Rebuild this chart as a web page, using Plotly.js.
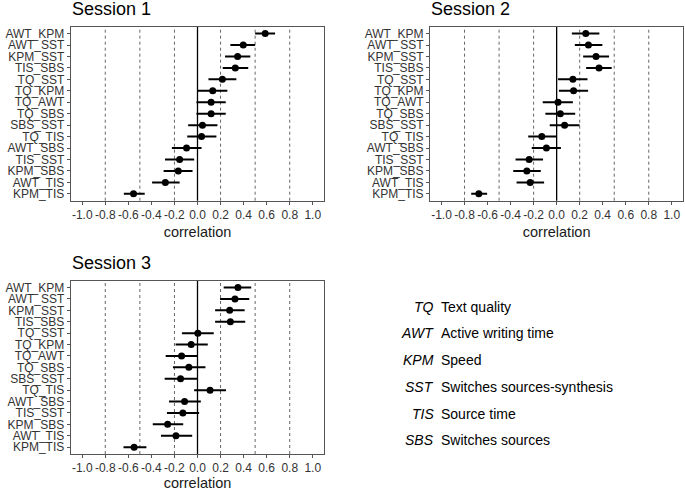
<!DOCTYPE html>
<html>
<head>
<meta charset="utf-8">
<script src="https://cdn.plot.ly/plotly-3.0.1.min.js"></script>
<style>
  html, body { margin: 0; padding: 0; background: #fff; }
  #chart { width: 685px; height: 491px; }
</style>
</head>
<body>
<div id="chart"></div>
<script>
// ---- data ----
const pairs = ['AWT_KPM', 'AWT_SST', 'KPM_SST', 'TIS_SBS', 'TQ_SST', 'TQ_KPM', 'TQ_AWT',
  'TQ_SBS', 'SBS_SST', 'TQ_TIS', 'AWT_SBS', 'TIS_SST', 'KPM_SBS', 'AWT_TIS', 'KPM_TIS'];

const s1Est = [0.587, 0.397, 0.348, 0.328, 0.216, 0.132, 0.118, 0.118, 0.043, 0.035, -0.095, -0.155, -0.167, -0.279, -0.555];
const s1Lo  = [0.500, 0.285, 0.239, 0.219, 0.095, 0.003, -0.009, -0.009, -0.081, -0.089, -0.222, -0.282, -0.294, -0.394, -0.639];
const s1Hi  = [0.673, 0.500, 0.458, 0.440, 0.337, 0.259, 0.245, 0.245, 0.173, 0.164, 0.035, -0.029, -0.043, -0.155, -0.458];

const s2Est = [0.253, 0.276, 0.342, 0.368, 0.141, 0.147, 0.012, 0.032, 0.069, -0.129, -0.089, -0.239, -0.259, -0.230, -0.676];
const s2Lo  = [0.132, 0.158, 0.230, 0.256, 0.012, 0.020, -0.121, -0.098, -0.060, -0.247, -0.216, -0.357, -0.377, -0.348, -0.742];
const s2Hi  = [0.371, 0.397, 0.455, 0.478, 0.268, 0.273, 0.141, 0.161, 0.199, 0.000, 0.037, -0.118, -0.138, -0.109, -0.604];

const s3Est = [0.351, 0.325, 0.279, 0.285, 0.003, -0.055, -0.138, -0.075, -0.147, 0.109, -0.112, -0.127, -0.259, -0.187, -0.550];
const s3Lo  = [0.227, 0.196, 0.153, 0.153, -0.135, -0.190, -0.276, -0.213, -0.285, -0.029, -0.247, -0.265, -0.388, -0.317, -0.642];
const s3Hi  = [0.466, 0.449, 0.409, 0.414, 0.141, 0.089, 0.000, 0.069, -0.003, 0.247, 0.029, 0.014, -0.124, -0.046, -0.443];

const sessionNames = ['Session 1', 'Session 2', 'Session 3'];
const xTicks = [-1.0, -0.8, -0.6, -0.4, -0.2, 0.0, 0.2, 0.4, 0.6, 0.8, 1.0];
const refLines = [-0.8, -0.5, -0.2, 0.2, 0.5, 0.8];

const legendAbbr = ['TQ', 'AWT', 'KPM', 'SST', 'TIS', 'SBS'];
const legendDesc = ['Text quality', 'Active writing time', 'Speed',
  'Switches sources-synthesis', 'Source time', 'Switches sources'];

// ---- layout helpers ----
const W = 685, H = 491;
const FONT = 'Liberation Sans, Arial, Helvetica, sans-serif';
const px = v => v / W;
const py = v => 1 - v / H;

// panel boxes in pixels: [left, right, top, bottom]
const panels = [
  [70.7, 324.3, 26.7, 200.7],
  [430.0, 683.3, 26.7, 200.7],
  [70.7, 324.3, 280.7, 454.0]
];

const sessions = [
  { est: s1Est, lo: s1Lo, hi: s1Hi },
  { est: s2Est, lo: s2Lo, hi: s2Hi },
  { est: s3Est, lo: s3Lo, hi: s3Hi }
];

const traces = [];
const layout = {
  width: W, height: H,
  margin: { l: 0, r: 0, t: 0, b: 0 },
  paper_bgcolor: '#fff',
  plot_bgcolor: '#fff',
  showlegend: false,
  font: { family: FONT, color: '#1a1a1a' },
  shapes: [],
  annotations: []
};

sessions.forEach((s, i) => {
  const n = i === 0 ? '' : String(i + 1);
  const [l, r, t, b] = panels[i];

  traces.push({
    type: 'scatter',
    mode: 'markers',
    x: s.est,
    y: pairs,
    xaxis: 'x' + n,
    yaxis: 'y' + n,
    marker: { color: '#000', size: 7 },
    error_x: {
      type: 'data',
      symmetric: false,
      array: s.hi.map((h, k) => h - s.est[k]),
      arrayminus: s.lo.map((lo, k) => s.est[k] - lo),
      color: '#000',
      thickness: 2,
      width: 0
    },
    hoverinfo: 'x+y'
  });

  layout['xaxis' + n] = {
    domain: [px(l), px(r)],
    anchor: 'y' + n,
    range: [-1.1, 1.1],
    tickvals: xTicks,
    ticktext: xTicks.map(v => v.toFixed(1)),
    tickangle: 0,
    ticks: 'outside',
    ticklen: 3,
    tickcolor: '#555',
    tickfont: { size: 12, color: '#333', family: FONT },
    showgrid: false,
    zeroline: false,
    showline: true,
    mirror: true,
    linecolor: '#555',
    linewidth: 1,
    title: { text: 'correlation', font: { size: 14.5, color: '#1a1a1a', family: FONT }, standoff: 5 },
    fixedrange: true
  };

  layout['yaxis' + n] = {
    domain: [py(b), py(t)],
    anchor: 'x' + n,
    type: 'category',
    categoryorder: 'array',
    categoryarray: pairs,
    range: [pairs.length - 0.4, -0.6],
    tickmode: 'array',
    tickvals: pairs,
    ticktext: pairs,
    tickangle: 0,
    ticks: 'outside',
    ticklen: 3,
    tickcolor: '#555',
    tickfont: { size: 12, color: '#333', family: FONT },
    showgrid: false,
    zeroline: false,
    showline: true,
    mirror: true,
    linecolor: '#555',
    linewidth: 1,
    fixedrange: true
  };

  refLines.forEach(v => {
    layout.shapes.push({
      type: 'line', xref: 'x' + n, yref: 'y' + n + ' domain',
      x0: v, x1: v, y0: 0, y1: 1,
      line: { color: '#666', width: 1, dash: '3px,3px' },
      layer: 'below'
    });
  });
  layout.shapes.push({
    type: 'line', xref: 'x' + n, yref: 'y' + n + ' domain',
    x0: 0, x1: 0, y0: 0, y1: 1,
    line: { color: '#000', width: 1.3 },
    layer: 'below'
  });

  layout.annotations.push({
    text: sessionNames[i],
    xref: 'paper', yref: 'paper',
    x: px(l - 1), y: py(t - 6),
    xanchor: 'left', yanchor: 'bottom',
    showarrow: false,
    font: { size: 18, color: '#000', family: FONT }
  });
});

// ---- abbreviation key ----
legendAbbr.forEach((abbr, k) => {
  const yy = 306.7 + k * 26.7;
  layout.annotations.push({
    text: '<i>' + abbr + '</i>',
    xref: 'paper', yref: 'paper',
    x: px(436), y: py(yy),
    xanchor: 'right', yanchor: 'middle',
    showarrow: false,
    font: { size: 14, color: '#000', family: FONT }
  });
  layout.annotations.push({
    text: legendDesc[k],
    xref: 'paper', yref: 'paper',
    x: px(439), y: py(yy),
    xanchor: 'left', yanchor: 'middle',
    showarrow: false,
    font: { size: 14, color: '#000', family: FONT }
  });
});

Plotly.newPlot('chart', traces, layout, { displayModeBar: false, staticPlot: true });
</script>
</body>
</html>
